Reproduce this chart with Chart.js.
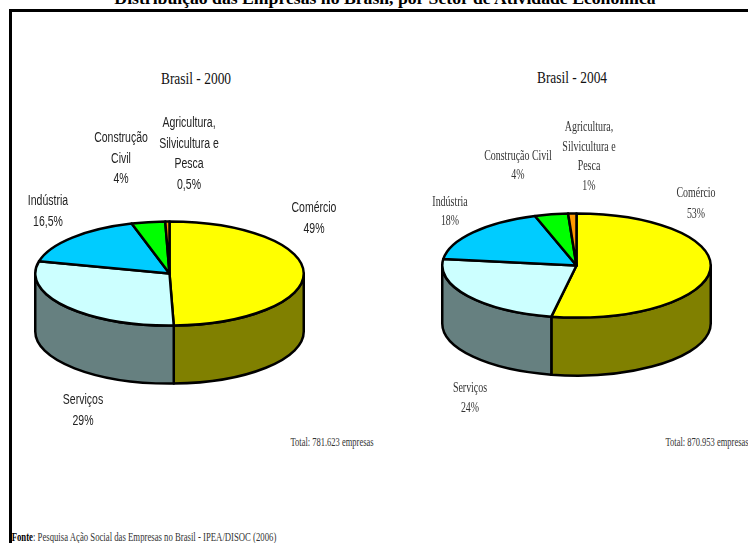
<!DOCTYPE html>
<html lang="pt-BR">
<head>
<meta charset="utf-8">
<title>Distribuição das Empresas no Brasil</title>
<script src="https://cdn.jsdelivr.net/npm/chart.js@4"></script>
<style>
  html, body { margin: 0; padding: 0; background: #fff; }
  #page { position: relative; width: 748px; height: 543px; overflow: hidden; }
  #moldura { position: absolute; left: 9px; top: 9px; width: 760px; height: 600px; border: 3px solid #000; box-sizing: border-box; }
  canvas { position: absolute; }
  .txt { position: absolute; white-space: nowrap; line-height: 1; transform-origin: center center; }
  .sans { font-family: "Liberation Sans", sans-serif; font-size: 14px; color: #222; }
  .serif { font-family: "Liberation Serif", serif; font-size: 14px; color: #333; }
  .titulo { font-family: "Liberation Serif", serif; font-size: 17px; color: #111; }
  .bold { font-weight: bold; color: #000; }
</style>
</head>
<body>
<div id="page">
  <div id="moldura"></div>
  <canvas id="pie2000" width="271" height="271" style="left:34px;top:138px"></canvas>
  <canvas id="pie2004" width="271" height="271" style="left:441px;top:130px"></canvas>
</div>
<script>
// ====== DADOS ======
const setores = ['Comércio', 'Serviços', 'Indústria', 'Construção Civil', 'Agricultura, Silvicultura e Pesca'];
const valores2000 = [49, 29, 16.5, 4, 0.5];
const valores2004 = [53, 24, 18, 4, 1];
const rotulos2000 = [['Comércio'], ['Serviços'], ['Indústria'], ['Construção', 'Civil'], ['Agricultura,', 'Silvicultura e', 'Pesca']];
const rotulos2004 = [['Comércio'], ['Serviços'], ['Indústria'], ['Construção Civil'], ['Agricultura,', 'Silvicultura e', 'Pesca']];

// ====== ESTILO ======
const corTopo = ['#ffff00', '#ccffff', '#00ccff', '#00ff00', '#ff9900'];
const corLado = ['#808000', '#668080', '#006680', '#008000', '#804c00'];
const TILT = 0.388;   // achatamento da elipse
const DEPTH = 58;     // altura do cilindro (px)

// posicao do centro de cada rotulo: [x, y da primeira linha, distancia entre linhas]
const pos2000 = [[314, 207, 21], [83, 399, 21], [48, 200, 21], [121, 137, 20.5], [189, 122, 20.5]];
const pos2004 = [[696, 193, 21], [470, 388, 20], [450, 202, 19], [518, 156, 19], [589, 127, 19.5]];

// ====== PIZZA 3D ======
class ArcTilt extends Chart.ArcElement {
  static id = 'arcTilt';
  draw(ctx){
    const { x, y, startAngle, endAngle, outerRadius } = this.getProps(['x', 'y', 'startAngle', 'endAngle', 'outerRadius']);
    const o = this.options;
    ctx.save();
    ctx.beginPath();
    ctx.moveTo(x, y);
    ctx.ellipse(x, y, outerRadius, outerRadius * TILT, 0, startAngle, endAngle);
    ctx.closePath();
    ctx.fillStyle = o.backgroundColor;
    ctx.strokeStyle = o.borderColor;
    ctx.lineWidth = o.borderWidth;
    ctx.lineJoin = 'round';
    ctx.fill();
    ctx.stroke();
    ctx.restore();
  }
}

class Pie3D extends Chart.PieController {
  static id = 'pie3d';
  static defaults = { dataElementType: 'arcTilt' };
  draw(){
    const ctx = this.chart.ctx;
    const arcs = this.getMeta().data;
    const lados = this.getDataset().sideColor;
    // so a metade da frente (angulos de 0 a PI no canvas) aparece
    arcs.forEach((arc, i) => {
      const a = Math.max(arc.startAngle, 0);
      const b = Math.min(arc.endAngle, Math.PI);
      if (b <= a) return;
      const r = arc.outerRadius;
      ctx.save();
      ctx.beginPath();
      ctx.ellipse(arc.x, arc.y, r, r * TILT, 0, a, b);
      ctx.lineTo(arc.x + r * Math.cos(b), arc.y + r * TILT * Math.sin(b) + DEPTH);
      ctx.ellipse(arc.x, arc.y + DEPTH, r, r * TILT, 0, b, a, true);
      ctx.closePath();
      ctx.fillStyle = lados[i];
      ctx.strokeStyle = arc.options.borderColor;
      ctx.lineWidth = arc.options.borderWidth;
      ctx.lineJoin = 'round';
      ctx.fill();
      ctx.stroke();
      ctx.restore();
    });
    super.draw();
  }
}

Chart.register(ArcTilt, Pie3D);

function initPie(id, valores){
  new Chart(document.getElementById(id), {
    type: 'pie3d',
    data: {
      labels: setores,
      datasets: [{
        data: valores,
        backgroundColor: corTopo,
        sideColor: corLado,
        borderColor: '#000',
        borderWidth: 2.5,
        hoverBorderWidth: 2.5
      }]
    },
    options: {
      responsive: false,
      animation: false,
      events: [],
      layout: { padding: 0 },
      plugins: { legend: { display: false }, tooltip: { enabled: false } }
    }
  });
}

// ====== TEXTOS ======
function addText(str, x, y, cls, sx){
  const el = document.createElement('div');
  el.className = 'txt ' + cls;
  el.textContent = str;
  el.style.left = x + 'px';
  el.style.top = y + 'px';
  el.style.transform = `translate(-50%, -50%) scaleX(${sx})`;
  document.getElementById('page').appendChild(el);
  return el;
}

function fmtPct(v){
  return String(v).replace('.', ',') + '%';
}

function addRotulos(rotulos, valores, posicoes, cls, sx){
  rotulos.forEach((linhas, i) => {
    const [x, y, passo] = posicoes[i];
    linhas.concat(fmtPct(valores[i])).forEach((linha, n) => {
      addText(linha, x, y + n * passo, cls, sx);
    });
  });
}

function init(){
  initPie('pie2000', valores2000);
  initPie('pie2004', valores2004);

  addText('Distribuição das Empresas no Brasil, por Setor de Atividade Econômica', 385, -2, 'titulo bold', 1.04);
  addText('Brasil - 2000', 196, 78, 'titulo', 0.79);
  addText('Brasil - 2004', 572, 77, 'titulo', 0.79);

  addRotulos(rotulos2000, valores2000, pos2000, 'sans', 0.75);
  addRotulos(rotulos2004, valores2004, pos2004, 'serif', 0.71);

  addText('Total: 781.623 empresas', 332, 441, 'serif', 0.653).style.fontSize = '13px';
  addText('Total: 870.953 empresas', 707, 441, 'serif', 0.653).style.fontSize = '13px';

  const fonte = addText('', 144, 536, 'serif', 0.67);
  fonte.style.fontSize = '13px';
  fonte.innerHTML = '<b style="color:#000">Fonte</b>: Pesquisa Ação Social das Empresas no Brasil - IPEA/DISOC (2006)';
}

init();
</script>
</body>
</html>
